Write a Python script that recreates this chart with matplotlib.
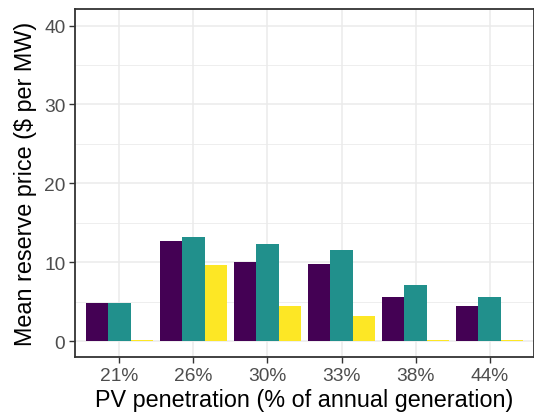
import numpy as np
import matplotlib.pyplot as plt

plt.rcParams['font.family'] = ['Liberation Sans', 'DejaVu Sans']

# mean reserve price by PV penetration, three scenarios
penetration = ['21%', '26%', '30%', '33%', '38%', '44%']
price_a = [4.8, 12.7, 10.0, 9.8, 5.6, 4.4]
price_b = [4.9, 13.2, 12.3, 11.5, 7.1, 5.6]
price_c = [0.2, 9.6, 4.4, 3.2, 0.1, 0.1]

colors = ['#440154', '#21908C', '#FDE725']
tickcolor = '#4D4D4D'
gridcolor = '#EBEBEB'

fig = plt.figure(figsize=(5.34, 4.14), dpi=100)
ax = fig.add_axes([0.1404, 0.1353, 0.8596, 0.8405])

x = np.arange(1, len(penetration) + 1)
w = 0.3
for k, vals in enumerate([price_a, price_b, price_c]):
    ax.bar(x + (k - 1) * w, vals, width=w, color=colors[k], zorder=3)

ax.set_xlim(0.4, 6.6)
ax.set_ylim(-2.0, 42.1)
ax.set_yticks([0, 10, 20, 30, 40])
ax.set_yticks([5, 15, 25, 35], minor=True)
ax.set_xticks(x)
ax.set_xticklabels(penetration)

ax.grid(which='major', color=gridcolor, linewidth=1.1, zorder=0)
ax.grid(which='minor', axis='y', color=gridcolor, linewidth=0.6, zorder=0)
ax.tick_params(which='minor', length=0)
ax.tick_params(which='major', length=4, width=1.0, color='#333333',
               labelsize=13.8, labelcolor=tickcolor, pad=3)
for s in ax.spines.values():
    s.set_color('#333333')
    s.set_linewidth(1.3)

ax.set_xlabel('PV penetration (% of annual generation)', fontsize=16.8,
              color='black', labelpad=3)
ax.set_ylabel('Mean reserve price ($ per MW)', fontsize=16.8,
              color='black', labelpad=5)

fig.savefig('out.png', dpi=100)
